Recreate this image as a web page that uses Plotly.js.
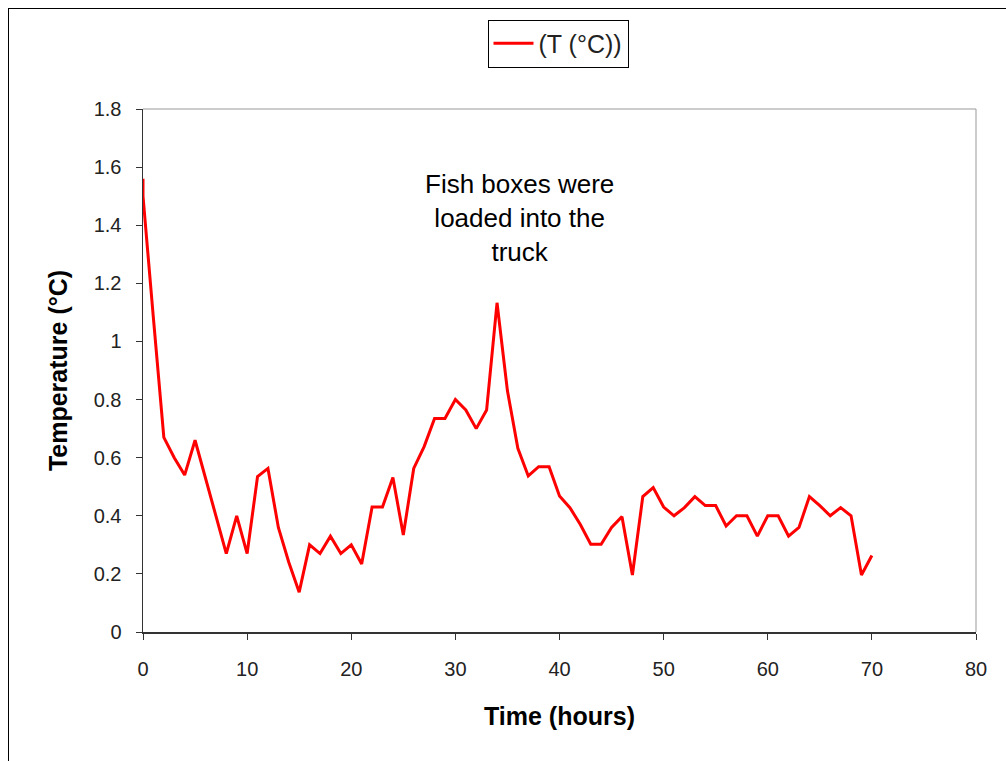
<!DOCTYPE html>
<html>
<head>
<meta charset="utf-8">
<script src="https://cdn.plot.ly/plotly-3.0.1.min.js"></script>
<style>
html,body{margin:0;padding:0;background:#fff;}
#wrap{position:relative;width:1006px;height:761px;overflow:hidden;}
#chart{position:absolute;left:0;top:0;width:1006px;height:761px;}
#frame{position:absolute;left:8px;top:8px;width:1010px;height:770px;border:1px solid #000;pointer-events:none;}
</style>
</head>
<body>
<div id="wrap"><div id="chart"></div><div id="frame"></div></div>
<script>
const timeHours = [0, 0, 1, 2, 3, 4, 5, 6, 7, 8, 9, 10, 11, 12, 13, 14, 15, 16, 17, 18, 19, 20,
  21, 22, 23, 24, 25, 26, 27, 28, 29, 30, 31, 32, 33, 34, 35, 36, 37, 38, 39, 40,
  41, 42, 43, 44, 45, 46, 47, 48, 49, 50, 51, 52, 53, 54, 55, 56, 57, 58, 59, 60,
  61, 62, 63, 64, 65, 66, 67, 68, 69, 70];
const temperature = [1.56, 1.50, 1.08, 0.67, 0.60, 0.54, 0.66, 0.53, 0.40, 0.27, 0.40, 0.27,
  0.535, 0.563, 0.36, 0.24, 0.137, 0.30, 0.27, 0.33, 0.27, 0.30,
  0.234, 0.43, 0.43, 0.532, 0.334, 0.563, 0.638, 0.735, 0.735, 0.80,
  0.764, 0.70, 0.764, 1.133, 0.83, 0.632, 0.537, 0.569, 0.569, 0.468,
  0.428, 0.37, 0.302, 0.302, 0.36, 0.397, 0.196, 0.466, 0.497, 0.43,
  0.40, 0.428, 0.466, 0.435, 0.435, 0.365, 0.40, 0.40, 0.33, 0.40,
  0.40, 0.33, 0.36, 0.466, 0.435, 0.40, 0.428, 0.40, 0.196, 0.263];
const seriesName = "(T (°C))";
const xTitle = "Time (hours)";
const yTitle = "Temperature (°C)";
const noteText = "Fish boxes were<br>loaded into the<br>truck";
const notePos = [36.2, 1.425];

const font = "Liberation Sans, Arial, sans-serif";

Plotly.newPlot("chart", [{
  x: timeHours,
  y: temperature,
  type: "scatter",
  mode: "lines",
  name: seriesName,
  line: {color: "#ff0000", width: 3}
}], {
  width: 1006, height: 761,
  margin: {l: 143, r: 30, t: 109, b: 129, autoexpand: false},
  paper_bgcolor: "#ffffff",
  plot_bgcolor: "#ffffff",
  font: {family: font, color: "#000"},
  showlegend: true,
  legend: {
    x: (558 - 143) / 833, xanchor: "center", y: (632 - 43.5) / 523, yanchor: "middle",
    bordercolor: "#000", borderwidth: 1, bgcolor: "#fff",
    font: {family: font, size: 25, color: "#222"},
    itemwidth: 40
  },
  xaxis: {
    range: [0, 80], dtick: 10, tick0: 0,
    showgrid: false, zeroline: false,
    showline: true, linecolor: "#333", linewidth: 1.5,
    ticks: "outside", ticklen: 6, tickcolor: "#333",
    ticklabelstandoff: 12,
    tickfont: {family: font, size: 20, color: "#222"},
    title: {text: "<b>" + xTitle + "</b>", font: {family: font, size: 25, color: "#000"}, standoff: 29}
  },
  yaxis: {
    range: [0, 1.8], dtick: 0.2, tick0: 0,
    showgrid: false, zeroline: false,
    showline: true, linecolor: "#333", linewidth: 1.5,
    ticks: "outside", ticklen: 6, tickcolor: "#333",
    ticklabelstandoff: 10,
    tickfont: {family: font, size: 20, color: "#222"},
    title: {text: "<b>" + yTitle + "</b>", font: {family: font, size: 25, color: "#000"}, standoff: 19}
  },
  shapes: [
    {type: "line", xref: "paper", yref: "paper", x0: 0, x1: 1, y0: 1, y1: 1, line: {color: "#999", width: 1}},
    {type: "line", xref: "paper", yref: "paper", x0: 1, x1: 1, y0: 0, y1: 1, line: {color: "#999", width: 1}}
  ],
  annotations: [{
    x: notePos[0], y: notePos[1], xref: "x", yref: "y",
    text: noteText, showarrow: false,
    font: {family: font, size: 26, color: "#000"},
    align: "center", xanchor: "center", yanchor: "middle"
  }]
}, {displayModeBar: false, staticPlot: true});
</script>
</body>
</html>
